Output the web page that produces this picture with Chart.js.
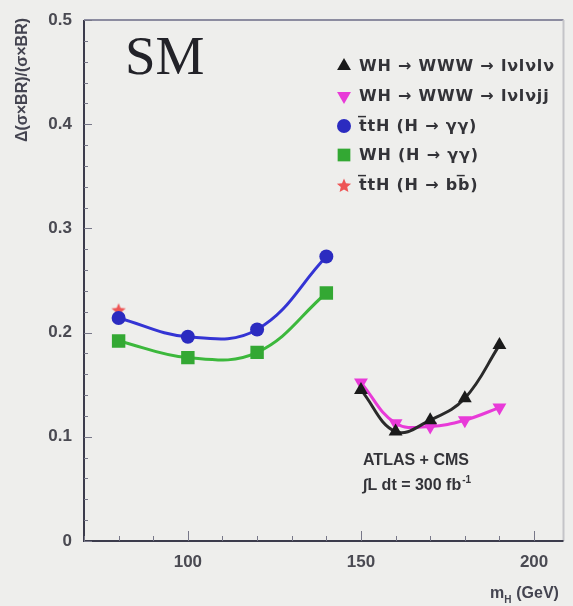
<!DOCTYPE html>
<html><head><meta charset="utf-8">
<script src="https://cdn.jsdelivr.net/npm/chart.js@4.4.1/dist/chart.umd.min.js"></script>
<style>html,body{margin:0;padding:0;background:#eeeeec;}canvas{display:block;}</style>
</head><body>
<canvas id="c" width="573" height="606"></canvas>
<script>
// Higgs mass points (GeV)
const massLow = [80, 100, 120, 140];
const massHigh = [150, 160, 170, 180, 190];
const massTthBb = [80];
// Relative uncertainty on sigma x BR for each channel
const wwwLvlvlv = [0.145, 0.105, 0.116, 0.137, 0.188];
const wwwLvlvjj = [0.152, 0.113, 0.110, 0.116, 0.128];
const tthGamGam = [0.214, 0.196, 0.203, 0.273];
const whGamGam = [0.192, 0.176, 0.181, 0.238];
const tthBb = [0.222];
// Axis ticks
const yTickValues = [0, 0.1, 0.2, 0.3, 0.4, 0.5];
const xTickValues = [100, 150, 200];
// Channel names
const channelNames = [
  'WH \u2192 WWW \u2192 l\u03bdl\u03bdl\u03bd',
  'WH \u2192 WWW \u2192 l\u03bdl\u03bdjj',
  't\u0305tH (H \u2192 \u03b3\u03b3)',
  'WH (H \u2192 \u03b3\u03b3)',
  't\u0305tH (H \u2192 bb\u0305)'
];

const SANS = '"Liberation Sans", Arial, sans-serif';
const WIDE = '"DejaVu Sans", "Liberation Sans", sans-serif';

// filled five-point star used as a marker
function makeStar(size, color) {
  const cv = document.createElement('canvas');
  cv.width = size; cv.height = size;
  const g = cv.getContext('2d');
  const cx = size / 2, cy = size / 2 + 1, R = size / 2 - 0.5, r = R * 0.45;
  g.beginPath();
  for (let i = 0; i < 10; i++) {
    const a = -Math.PI / 2 + i * Math.PI / 5;
    const rr = i % 2 ? r : R;
    g.lineTo(cx + rr * Math.cos(a), cy + rr * Math.sin(a));
  }
  g.closePath();
  g.fillStyle = color;
  g.fill();
  return cv;
}
const starImg = makeStar(16, '#ee5555');

const pts = (xs, ys) => xs.map((x, i) => ({ x: x, y: ys[i] }));

const datasets = [
  { label: channelNames[0], data: pts(massHigh, wwwLvlvlv), borderColor: '#2a2a2a', backgroundColor: '#1a1a1a',
    pointStyle: 'triangle', pointRadius: 8, pointRotation: 0 },
  { label: channelNames[1], data: pts(massHigh, wwwLvlvjj), borderColor: '#e83ad8', backgroundColor: '#e83ad8',
    pointStyle: 'triangle', pointRadius: 8, pointRotation: 180 },
  { label: channelNames[2], data: pts(massLow, tthGamGam), borderColor: '#3434d4', backgroundColor: '#2b2bc0',
    pointStyle: 'circle', pointRadius: 7, pointRotation: 0 },
  { label: channelNames[3], data: pts(massLow, whGamGam), borderColor: '#3cb83c', backgroundColor: '#33a833',
    pointStyle: 'rect', pointRadius: 9.5, pointRotation: 0 },
  { label: channelNames[4], data: pts(massTthBb, tthBb), borderColor: '#ee5555', backgroundColor: '#ee5555',
    pointStyle: starImg, pointRadius: 8, pointRotation: 0, showLine: false }
].map(d => Object.assign({ borderWidth: 3, tension: 0.4, pointBorderWidth: 0, pointHoverRadius: 7, fill: false }, d));

// the star sits beneath the circle at the same mass
datasets[4].order = 5;

const legendMarkerRadius = [8, 8, 7, 9, 8];

const decorations = {
  id: 'decorations',
  beforeDatasetsDraw(chart) {
    const { ctx, chartArea: a, scales } = chart;
    ctx.save();
    // frame
    ctx.strokeStyle = '#8c8ca0'; ctx.lineWidth = 2;
    ctx.beginPath(); ctx.moveTo(a.left, a.top); ctx.lineTo(a.right, a.top); ctx.stroke();
    ctx.strokeStyle = '#c4c4c8'; ctx.lineWidth = 2;
    ctx.beginPath(); ctx.moveTo(a.right, a.top); ctx.lineTo(a.right, a.bottom); ctx.stroke();
    ctx.strokeStyle = '#3c3c4c'; ctx.lineWidth = 2;
    ctx.beginPath(); ctx.moveTo(a.left, a.top); ctx.lineTo(a.left, a.bottom); ctx.lineTo(a.right, a.bottom); ctx.stroke();
    // minor / major ticks pointing inward
    ctx.strokeStyle = '#777788'; ctx.lineWidth = 1;
    for (let k = 0; k <= 50; k += 2) {
      const v = k / 100;
      const y = Math.round(scales.y.getPixelForValue(v)) + 0.5;
      const len = (k % 10 === 0) ? 8 : 4;
      ctx.beginPath(); ctx.moveTo(a.left, y); ctx.lineTo(a.left + len, y); ctx.stroke();
    }
    for (let v = 70; v <= 200; v += 10) {
      const x = Math.round(scales.x.getPixelForValue(v)) + 0.5;
      const len = (v % 50 === 0) ? 10 : 5;
      ctx.beginPath(); ctx.moveTo(x, a.bottom); ctx.lineTo(x, a.bottom - len); ctx.stroke();
    }
    ctx.restore();
  },
  afterDraw(chart) {
    const { ctx } = chart;
    ctx.save();
    // SM label
    ctx.fillStyle = '#222228';
    ctx.font = '55px "Liberation Serif", "Times New Roman", serif';
    ctx.textAlign = 'left'; ctx.textBaseline = 'alphabetic';
    ctx.fillText('SM', 125, 74);

    // legend
    const rowY = [66, 96, 126, 155, 185];
    ctx.font = 'bold 16px ' + WIDE;
    ctx.textBaseline = 'middle';
    chart.data.datasets.forEach((ds, i) => {
      const y = rowY[i];
      ctx.letterSpacing = '0px';
      ctx.fillStyle = ds.backgroundColor;
      ctx.strokeStyle = ds.backgroundColor;
      Chart.helpers.drawPoint(ctx, { pointStyle: ds.pointStyle, rotation: ds.pointRotation, radius: legendMarkerRadius[i], borderWidth: 0 }, 344, y);
      ctx.fillStyle = '#333338';
      ctx.letterSpacing = '0.8px';
      ctx.fillText(ds.label, 359, y + 1);
    });
    ctx.letterSpacing = '0px';

    // experiment note
    ctx.textBaseline = 'middle';
    ctx.font = 'bold 16px ' + SANS;
    ctx.fillStyle = '#333338';
    ctx.fillText('ATLAS + CMS', 363, 461);
    ctx.fillText('\u222bL dt = 300 fb', 363, 486);
    const w = ctx.measureText('\u222bL dt = 300 fb').width;
    ctx.font = 'bold 10px ' + SANS;
    ctx.fillText('-1', 363 + w + 1, 480);

    // y axis title
    ctx.save();
    ctx.translate(27, 80);
    ctx.rotate(-Math.PI / 2);
    ctx.textAlign = 'center';
    ctx.textBaseline = 'alphabetic';
    ctx.font = 'bold 16px ' + SANS;
    ctx.fillStyle = '#444450';
    ctx.fillText('\u0394(\u03c3\u00d7BR)/(\u03c3\u00d7BR)', 0, 0);
    ctx.restore();

    // x axis title
    ctx.fillStyle = '#444450';
    ctx.textAlign = 'left';
    ctx.textBaseline = 'alphabetic';
    ctx.font = 'bold 16px ' + SANS;
    ctx.fillText('m', 490, 598);
    const mw = ctx.measureText('m').width;
    ctx.font = 'bold 10px ' + SANS;
    ctx.fillText('H', 490 + mw, 603);
    ctx.font = 'bold 16px ' + SANS;
    ctx.fillText('(GeV)', 490 + mw + 12, 598);
    ctx.restore();
  }
};

new Chart(document.getElementById('c'), {
  type: 'line',
  data: { datasets: datasets },
  options: {
    responsive: false,
    animation: false,
    events: [],
    layout: { padding: { top: 20, right: 6, left: 0, bottom: 0 } },
    plugins: { legend: { display: false }, tooltip: { enabled: false } },
    scales: {
      x: {
        type: 'linear', min: 70, max: 208.5,
        grid: { display: false }, border: { display: false },
        afterBuildTicks: s => { s.ticks = xTickValues.map(v => ({ value: v })); },
        afterFit: s => { s.height = 65; },
        ticks: { padding: 3, color: '#4a4a52', font: { family: SANS, size: 17, weight: 'bold' } }
      },
      y: {
        type: 'linear', min: 0, max: 0.5,
        grid: { display: false }, border: { display: false },
        afterBuildTicks: s => { s.ticks = yTickValues.map(v => ({ value: v })); },
        afterFit: s => { s.width = 84; },
        ticks: { padding: 4, color: '#4a4a52', font: { family: SANS, size: 17, weight: 'bold' },
          callback: v => (v === 0 ? '0' : v.toFixed(1)) }
      }
    }
  },
  plugins: [decorations]
});
</script>
</body></html>
